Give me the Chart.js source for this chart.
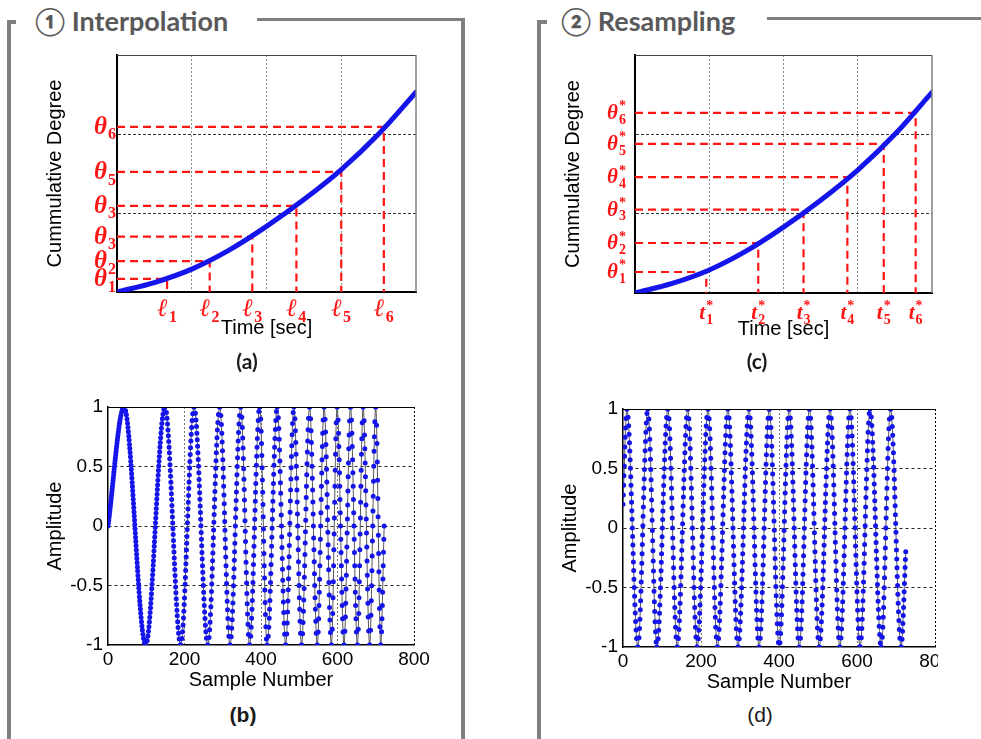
<!DOCTYPE html>
<html>
<head>
<meta charset="utf-8">
<script src="https://cdn.jsdelivr.net/npm/chart.js@4.4.0/dist/chart.umd.min.js"></script>
<style>
html, body { margin: 0; padding: 0; background: #fff; }
body { width: 981px; height: 739px; position: relative; overflow: hidden; font-family: "Liberation Sans", Arial, sans-serif; }
.bar { position: absolute; background: #7f7f7f; }
.hdr { position: absolute; font-family: Lato, "DejaVu Sans", sans-serif; font-weight: 700; font-size: 27px; line-height: 30px; color: #595959; white-space: nowrap; }
.cap { position: absolute; width: 80px; text-align: center; font-size: 21px; line-height: 24px; color: #1a1a1a; }
canvas { position: absolute; }
</style>
</head>
<body>
<!-- frames -->
<div class="bar" style="left:7px;top:20px;width:4px;height:719px"></div>
<div class="bar" style="left:7px;top:20px;width:9px;height:4px"></div>
<div class="hdr" style="left:35px;top:6px">① Interpolation</div>
<div class="bar" style="left:257px;top:18px;width:208px;height:3px"></div>
<div class="bar" style="left:461px;top:18px;width:4px;height:721px"></div>

<div class="bar" style="left:537px;top:20px;width:4px;height:719px"></div>
<div class="bar" style="left:537px;top:20px;width:10px;height:4px"></div>
<div class="hdr" style="left:561px;top:6px">② Resampling</div>
<div class="bar" style="left:767px;top:17px;width:214px;height:3px"></div>

<canvas id="chartA" width="440" height="310" style="left:20px;top:40px"></canvas>
<canvas id="chartC" width="436" height="310" style="left:545px;top:40px"></canvas>
<canvas id="chartB" width="440" height="310" style="left:20px;top:390px"></canvas>
<canvas id="chartD" width="393" height="310" style="left:545px;top:390px"></canvas>

<div class="cap" style="left:207px;top:349px;font-family:Lato,sans-serif;font-weight:700">(a)</div>
<div class="cap" style="left:717px;top:349px;font-family:Lato,sans-serif;font-weight:700">(c)</div>
<div class="cap" style="left:203px;top:703px;font-weight:700">(b)</div>
<div class="cap" style="left:720px;top:703px">(d)</div>

<script>
// cumulative degree curve, same in (a) and (c)
const curveTime   = [0, 0.5, 1, 1.5, 2, 2.5, 3, 3.5, 4];
const curveDegree = [0, 0.12, 0.29, 0.53, 0.83, 1.17, 1.55, 2.0, 2.53];
const timeGrid    = [0, 1, 2, 3, 4];
const degreeGrid  = [0, 1, 2, 3];

// (a) interpolation marks
const interpTime     = [0.67, 1.24, 1.81, 2.4, 3.0, 3.57];
const interpDegree   = [0.165, 0.39, 0.70, 1.09, 1.52, 2.09];
const interpThetaIdx = ['1', '2', '3', '3', '5', '6'];
const interpTimeIdx  = ['1', '2', '3', '4', '5', '6'];

// (c) resampling marks
const resampTime   = [0.96, 1.66, 2.27, 2.86, 3.35, 3.78];
const resampDegree = [0.265, 0.63, 1.05, 1.46, 1.88, 2.27];
const resampIdx    = ['1', '2', '3', '4', '5', '6'];

// (b) interpolated signal: start, peaks / troughs, end
const interpSample = [0, 42, 98.5, 149, 190, 225, 261, 292, 319, 347, 370, 396.5, 416, 442.5, 464.5,
                      486, 506, 527, 547, 565, 584, 599, 617, 634, 652, 667, 684, 700, 713, 722];
const interpAmp    = [0, 1, -1, 1, -1, 1, -1, 1, -1, 1, -1, 1, -1, 1, -1,
                      1, -1, 1, -1, 1, -1, 1, -1, 1, -1, 1, -1, 1, -1, 0];

// (d) resampled signal: start, peaks / troughs, end
const resampSample = [0, 10, 38, 63.5, 87, 115, 139, 166, 190, 218, 242, 269, 295, 323, 349,
                      375, 400.5, 426, 452, 478, 503, 531, 556, 582, 608, 633.5, 662, 686, 713, 725];
const resampAmp    = [0.2, 1, -1, 1, -1, 1, -1, 1, -1, 1, -1, 1, -1, 1, -1,
                      1, -1, 1, -1, 1, -1, 1, -1, 1, -1, 1, -1, 1, -1, -0.2];

const sampleTicks = [0, 200, 400, 600, 800];
const ampTicks    = [-1, -0.5, 0, 0.5, 1];

const RED = '#ff1414';
const BLUE = 'rgb(20, 20, 235)';
const AXIS_FONT = '"Liberation Sans", Arial, sans-serif';

function pts(xs, ys) {
    return xs.map((v, i) => ({x: v, y: ys[i]}));
}

function inside(color, min, max) {
    return c => (c.tick && c.tick.value > min && c.tick.value < max) ? color : 'rgba(0,0,0,0)';
}

function fixAxis(w, h) {
    return s => {
        if (w !== null) s.width = w;
        if (h !== null) s.height = h;
        s.paddingLeft = 0; s.paddingRight = 0; s.paddingTop = 0; s.paddingBottom = 0;
    };
}

function setTicks(values) {
    return s => { s.ticks = values.map(v => ({value: v})); };
}

// theta / t with small index (and star); sz = [base size, index size]
function mathLabel(ctx, base, sup, sub, x, y, align, sz) {
    const big = 'italic bold ' + sz[0] + 'px "Liberation Serif", serif';
    const small = 'bold ' + sz[1] + 'px "Liberation Serif", serif';
    ctx.font = big;
    const wb = ctx.measureText(base).width;
    ctx.font = small;
    const ws = Math.max(ctx.measureText(sub).width, sup ? ctx.measureText(sup).width : 0);
    const w = wb + ws + 1;
    const x0 = align === 'right' ? x - w : x - w / 2;
    ctx.textAlign = 'left';
    ctx.textBaseline = 'alphabetic';
    ctx.fillStyle = RED;
    ctx.font = big;
    ctx.fillText(base, x0, y + sz[0] * 0.28);
    ctx.font = small;
    ctx.fillText(sub, x0 + wb + 1, y + sz[0] * 0.28 + sz[1] * 0.35);
    if (sup) ctx.fillText(sup, x0 + wb + 1, y - sz[0] * 0.12);
}

function titles(ctx, a, xTitle, xGap, yTitle, yGap) {
    ctx.fillStyle = '#000';
    ctx.font = '20px ' + AXIS_FONT;
    ctx.textAlign = 'center';
    ctx.textBaseline = 'middle';
    ctx.fillText(xTitle, (a.left + a.right) / 2, a.bottom + xGap);
    ctx.save();
    ctx.translate(a.left - yGap, (a.top + a.bottom) / 2);
    ctx.rotate(-Math.PI / 2);
    ctx.fillText(yTitle, 0, 0);
    ctx.restore();
}

function degreeChart(id, pad, gT, gD, thetaIdx, timeIdx, star, thetaGap, tDrop, tChar, sz) {
    const datasets = [{
        data: pts(curveTime, curveDegree),
        borderColor: BLUE,
        borderWidth: 5,
        borderCapStyle: 'round',
        cubicInterpolationMode: 'monotone',
        pointRadius: 0
    }];
    for (let i = 0; i < gT.length; i++) {
        datasets.push({
            data: [{x: 0, y: gD[i]}, {x: gT[i], y: gD[i]}, {x: gT[i], y: 0}],
            borderColor: RED,
            borderWidth: 2.2,
            borderDash: [8, 5],
            pointRadius: 0,
            tension: 0
        });
    }

    const decor = {
        id: 'degreeDecor',
        afterDraw(chart) {
            const {ctx, chartArea: a, scales: {x, y}} = chart;
            ctx.save();
            ctx.strokeStyle = '#444';
            ctx.lineWidth = 1;
            ctx.beginPath();
            ctx.moveTo(a.left, a.top + 0.5);
            ctx.lineTo(a.right, a.top + 0.5);
            ctx.stroke();
            ctx.strokeStyle = '#808080';
            ctx.lineWidth = 1.5;
            ctx.beginPath();
            ctx.moveTo(a.right, a.top);
            ctx.lineTo(a.right, a.bottom);
            ctx.stroke();

            titles(ctx, a, 'Time [sec]', 36, 'Cummulative Degree', 62);

            for (let i = 0; i < gT.length; i++) {
                mathLabel(ctx, 'θ', star ? '*' : '', thetaIdx[i], a.left - thetaGap, y.getPixelForValue(gD[i]), 'right', sz);
                mathLabel(ctx, tChar, star ? '*' : '', timeIdx[i], x.getPixelForValue(gT[i]), a.bottom + tDrop, 'center', sz);
            }
            ctx.restore();
        }
    };

    return new Chart(document.getElementById(id).getContext('2d'), {
        type: 'line',
        data: {datasets: datasets},
        options: {
            responsive: false,
            animation: false,
            devicePixelRatio: 1,
            layout: {padding: pad},
            plugins: {legend: {display: false}, tooltip: {enabled: false}},
            scales: {
                x: {
                    type: 'linear', min: 0, max: 4,
                    afterBuildTicks: setTicks(timeGrid),
                    afterFit: fixAxis(null, 0),
                    ticks: {display: false},
                    grid: {color: inside('#8c8c8c', 0, 4), lineWidth: 1, drawTicks: false},
                    border: {color: '#000', width: 2, dash: [2, 2]}
                },
                y: {
                    type: 'linear', min: 0, max: 3,
                    afterBuildTicks: setTicks(degreeGrid),
                    afterFit: fixAxis(0, null),
                    ticks: {display: false},
                    grid: {color: inside('#333', 0, 3), lineWidth: 1, drawTicks: false},
                    border: {color: '#000', width: 2, dash: [3, 2]}
                }
            }
        },
        plugins: [decor]
    });
}

function signalChart(id, pad, xs, ys) {
    const decor = {
        id: 'signalDecor',
        afterDraw(chart) {
            const {ctx, chartArea: a} = chart;
            ctx.save();
            ctx.strokeStyle = '#000';
            ctx.lineWidth = 1;
            ctx.beginPath();
            ctx.moveTo(a.left, a.top + 0.5);
            ctx.lineTo(a.right, a.top + 0.5);
            ctx.stroke();
            titles(ctx, a, 'Sample Number', 35, 'Amplitude', 53);
            ctx.restore();
        }
    };

    return new Chart(document.getElementById(id).getContext('2d'), {
        type: 'line',
        data: {
            datasets: [{
                // sample markers
                data: pts(xs, ys),
                borderColor: BLUE,
                borderWidth: 5,
                borderCapStyle: 'round',
                cubicInterpolationMode: 'monotone',
                pointRadius: 0,
                segment: {
                    borderDash: c => {
                        const n = xs[c.p1DataIndex] - xs[c.p0DataIndex];
                        const len = Math.hypot(c.p1.x - c.p0.x, c.p1.y - c.p0.y);
                        return [0, Math.max(len / n, 2)];
                    }
                }
            }, {
                data: pts(xs, ys),
                borderColor: '#555',
                borderWidth: 1,
                cubicInterpolationMode: 'monotone',
                pointRadius: 0
            }]
        },
        options: {
            responsive: false,
            animation: false,
            devicePixelRatio: 1,
            layout: {padding: pad},
            plugins: {legend: {display: false}, tooltip: {enabled: false}},
            scales: {
                x: {
                    type: 'linear', min: 0, max: 800,
                    afterBuildTicks: setTicks(sampleTicks),
                    afterFit: fixAxis(null, 25),
                    ticks: {color: '#000', font: {family: AXIS_FONT, size: 19}, padding: 3, maxRotation: 0, autoSkip: false,
                            callback: v => String(v)},
                    grid: {color: c => (c.tick && c.tick.value === 800) ? '#000' : inside('#777', 0, 800)(c), lineWidth: 1, drawTicks: false},
                    border: {color: '#000', width: 1.5, dash: [2, 2]}
                },
                y: {
                    type: 'linear', min: -1, max: 1,
                    afterBuildTicks: setTicks(ampTicks),
                    afterFit: fixAxis(40, null),
                    ticks: {color: '#000', font: {family: AXIS_FONT, size: 19}, padding: 5, autoSkip: false,
                            callback: v => String(v)},
                    grid: {color: inside('#222', -1, 1), lineWidth: 1, drawTicks: false},
                    border: {color: '#000', width: 1.5, dash: [3, 3]}
                }
            }
        },
        plugins: [decor]
    });
}

var charts = [];

window.addEventListener('load', _ => {
    charts.push(degreeChart('chartA', {left: 97, top: 15, right: 44, bottom: 58},
        interpTime, interpDegree, interpThetaIdx, interpTimeIdx, false, 1, 17, 'ℓ', [25, 16]));
    charts.push(degreeChart('chartC', {left: 90, top: 15, right: 49, bottom: 57},
        resampTime, resampDegree, resampIdx, resampIdx, true, 9, 20, 't', [21, 14]));
    charts.push(signalChart('chartB', {left: 48, top: 17, right: 46, bottom: 30}, interpSample, interpAmp));
    charts.push(signalChart('chartD', {left: 38, top: 19, right: 3, bottom: 28}, resampSample, resampAmp));
});
</script>
</body>
</html>
